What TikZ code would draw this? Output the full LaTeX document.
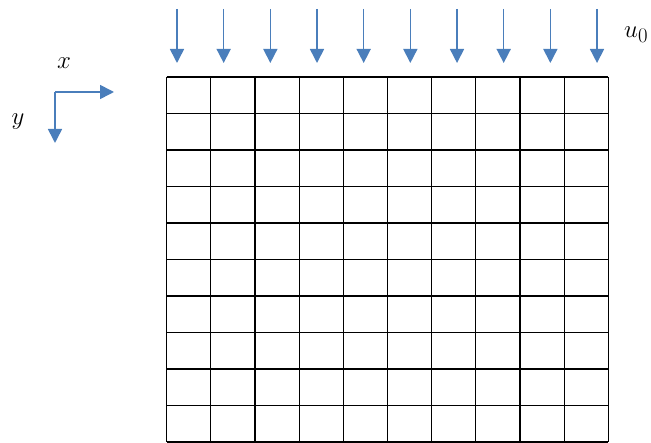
\documentclass[tikz,border=0pt]{standalone}
\usepackage{tikz}
\usetikzlibrary{arrows.meta, positioning}
\definecolor{loadblue}{RGB}{74, 126, 187}

\begin{document}
\begin{tikzpicture}[
  x=1pt, y=-1pt,
  load/.style={-{Triangle[length=14pt, width=14pt]}, loadblue, line width=1.6pt},
  mesh/.style={black, line width=1.2pt},
  lbl/.style={font=\fontsize{30}{32}\selectfont, inner sep=0pt}
]
  \useasboundingbox (0,0) rectangle (651,443);

  % axes
  \coordinate (org)  at (55,92);
  \coordinate (xend) at (114,92);
  \coordinate (yend) at (55,143);
  \draw[load] (org) -- (xend);
  \draw[load] (org) -- (yend);
  \node[lbl] (xlab) at (64,63)  {$x$};
  \node[lbl] (ylab) at (18,122) {$y$};

  % mesh
  \foreach \i in {0,...,10}
    \draw[mesh] (166.7+44.16*\i,77) -- (166.7+44.16*\i,442);
  \foreach \j in {0,...,10}
    \draw[mesh] (166.7,77+36.5*\j) -- (608.3,77+36.5*\j);

  % load
  \foreach \k in {0,...,9}
    \draw[load] (177+46.67*\k,9) -- (177+46.67*\k,63);
  \node[lbl, anchor=west] (uzero) at (624,35) {$u_0$};
\end{tikzpicture}
\end{document}
